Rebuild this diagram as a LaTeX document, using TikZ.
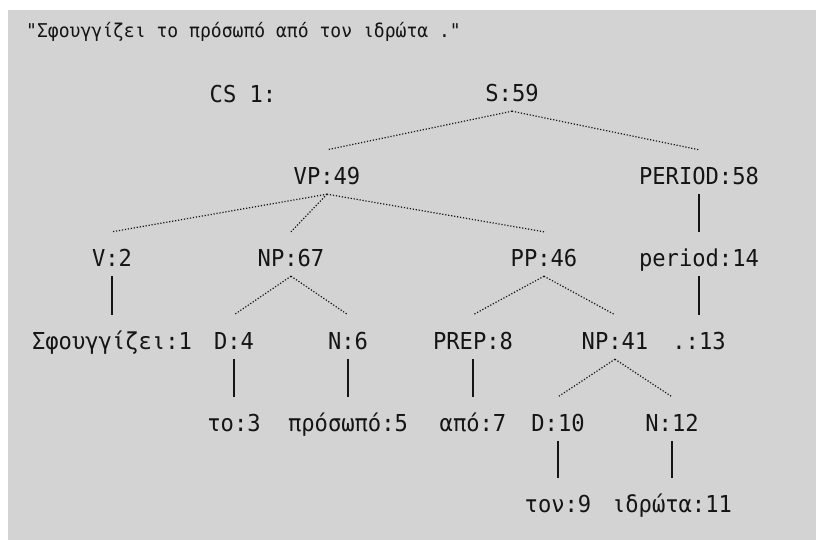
\documentclass[tikz,border=0pt]{standalone}
\usepackage{fontspec}
\newfontfamily\treefont[FakeStretch=0.95]{DejaVu Sans Mono}
\definecolor{panel}{RGB}{211,211,211}
\definecolor{ink}{RGB}{20,20,20}
\begin{document}
\begin{tikzpicture}[x=1pt,y=1pt,
  lbl/.style={inner sep=0pt, text height=17pt, text depth=0pt, text=ink,
              font=\treefont\fontsize{23.3pt}{26pt}\selectfont},
  ttl/.style={inner sep=0pt, text height=13pt, text depth=0pt, text=ink, anchor=west,
              font=\treefont\fontsize{19pt}{21pt}\selectfont},
  dotedge/.style={draw=ink, line width=1.2pt, dash pattern=on 1.2pt off 1.8pt},
  solidedge/.style={draw=ink, line width=1.4pt}]
\useasboundingbox (0,0) rectangle (816,540);
\fill[white] (0,0) rectangle (816,540);
\fill[panel] (8,0) rectangle (816,530);

% sentence
\node[ttl] (title) at (26,508.5) {"Σφουγγίζει το πρόσωπό από τον ιδρώτα ."};

% tree labels
\node[lbl] (cs)     at (243,446) {CS 1:};
\node[lbl] (S)      at (512,447) {S:59};
\node[lbl] (VP)     at (327,364) {VP:49};
\node[lbl] (PERIOD) at (699,364) {PERIOD:58};
\node[lbl] (V)      at (112,282) {V:2};
\node[lbl] (NPa)    at (291,282) {NP:67};
\node[lbl] (PP)     at (544,282) {PP:46};
\node[lbl] (per)    at (699,282) {period:14};
\node[lbl] (Sf)     at (112,199) {Σφουγγίζει:1};
\node[lbl] (Da)     at (234,199) {D:4};
\node[lbl] (Na)     at (348,199) {N:6};
\node[lbl] (PREP)   at (473,199) {PREP:8};
\node[lbl] (NPb)    at (615,199) {NP:41};
\node[lbl] (dot)    at (699,199) {.:13};
\node[lbl] (to)     at (234,117) {το:3};
\node[lbl] (pros)   at (348,117) {πρόσωπό:5};
\node[lbl] (apo)    at (473,117) {από:7};
\node[lbl] (Db)     at (558,117) {D:10};
\node[lbl] (Nb)     at (672,117) {N:12};
\node[lbl] (ton)    at (558,36)  {τον:9};
\node[lbl] (idr)    at (672,36)  {ιδρώτα:11};

% phrase branches
\foreach \p/\c in {S/VP, S/PERIOD, VP/V, VP/NPa, VP/PP, NPa/Da, NPa/Na,
                   PP/PREP, PP/NPb, NPb/Db, NPb/Nb}
  \draw[dotedge] ([yshift=-9.5pt]\p.south) -- ([yshift=17.5pt]\c.north);

% unary branches
\foreach \p/\c in {PERIOD/per, per/dot, V/Sf, Da/to, Na/pros, PREP/apo,
                   Db/ton, Nb/idr}
  \draw[solidedge] ([yshift=-9.5pt]\p.south) -- ([yshift=17.5pt]\c.north);
\end{tikzpicture}
\end{document}
